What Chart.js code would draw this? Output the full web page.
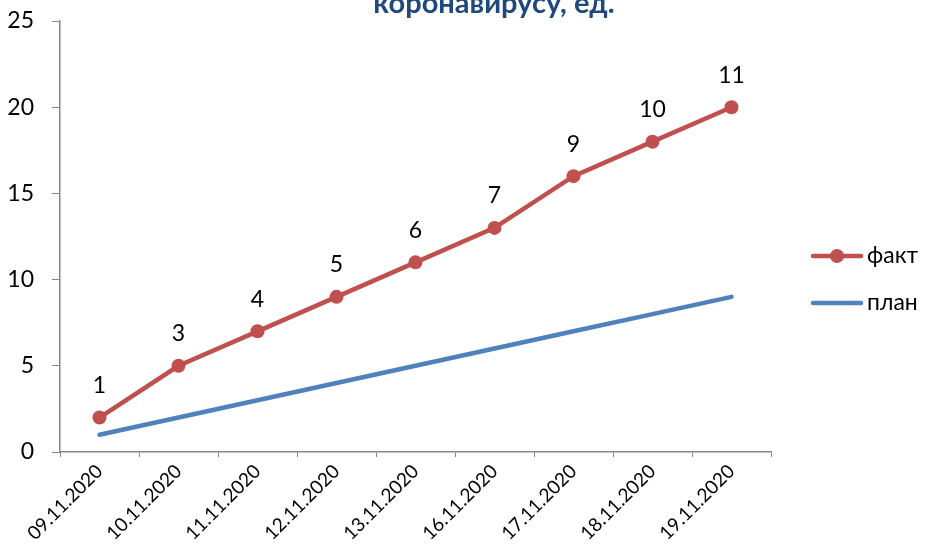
<!DOCTYPE html>
<html>
<head>
<meta charset="utf-8">
<script src="https://cdn.jsdelivr.net/npm/chart.js@4"></script>
<style>
html,body{margin:0;padding:0;background:#fff;}
#wrap{width:925px;height:546px;position:relative;}
</style>
</head>
<body>
<div id="wrap"><canvas id="c" width="925" height="546"></canvas></div>
<script>
const titleText = 'коронавирусу, ед.';
const categories = ['09.11.2020','10.11.2020','11.11.2020','12.11.2020','13.11.2020','16.11.2020','17.11.2020','18.11.2020','19.11.2020'];
const factValues = [2,5,7,9,11,13,16,18,20];
const factLabels = ['1','3','4','5','6','7','9','10','11'];
const planValues = [1,2,3,4,5,6,7,8,9];
const yTicks = [0,5,10,15,20,25];

const RED = '#C0504D';
const BLUE = '#4F81BD';
const AXIS = '#868686';
const FONT = 'Lato, "Open Sans", sans-serif';

const titlePlugin = {
  id: 'clippedTitle',
  afterDraw(chart) {
    const ctx = chart.ctx;
    ctx.save();
    ctx.font = 'bold 29px ' + FONT;
    ctx.fillStyle = '#1F497D';
    ctx.textAlign = 'center';
    ctx.textBaseline = 'alphabetic';
    ctx.fillText(titleText, 494, 13);
    ctx.restore();
  }
};

const dataLabelPlugin = {
  id: 'factLabels',
  afterDatasetsDraw(chart) {
    const ctx = chart.ctx;
    const meta = chart.getDatasetMeta(0);
    ctx.save();
    ctx.font = '23px ' + FONT;
    ctx.fillStyle = '#000';
    ctx.textAlign = 'center';
    ctx.textBaseline = 'middle';
    meta.data.forEach((pt, i) => {
      ctx.fillText(factLabels[i], pt.x, pt.y - 32);
    });
    ctx.restore();
  }
};

const legendPlugin = {
  id: 'sideLegend',
  afterDraw(chart) {
    const ctx = chart.ctx;
    const items = chart.data.datasets;
    const ys = [256, 303];
    ctx.save();
    items.forEach((ds, i) => {
      const y = ys[i];
      ctx.strokeStyle = ds.borderColor;
      ctx.lineWidth = 4.5;
      ctx.lineCap = 'round';
      ctx.beginPath();
      ctx.moveTo(813, y);
      ctx.lineTo(861, y);
      ctx.stroke();
      if (ds.pointRadius > 0) {
        ctx.fillStyle = ds.borderColor;
        ctx.beginPath();
        ctx.arc(837, y, 7, 0, Math.PI * 2);
        ctx.fill();
      }
      ctx.fillStyle = '#000';
      ctx.font = '23px ' + FONT;
      ctx.textAlign = 'left';
      ctx.textBaseline = 'middle';
      ctx.fillText(ds.label, 867, y);
    });
    ctx.restore();
  }
};

new Chart(document.getElementById('c'), {
  type: 'line',
  data: {
    labels: categories,
    datasets: [
      {
        label: 'факт',
        data: factValues,
        borderColor: RED,
        backgroundColor: RED,
        borderWidth: 4.5,
        pointRadius: 7,
        pointHoverRadius: 7,
        pointBackgroundColor: RED,
        pointBorderWidth: 0,
        tension: 0,
        borderCapStyle: 'round'
      },
      {
        label: 'план',
        data: planValues,
        borderColor: BLUE,
        backgroundColor: BLUE,
        borderWidth: 4.5,
        pointRadius: 0,
        tension: 0,
        borderCapStyle: 'round'
      }
    ]
  },
  options: {
    responsive: false,
    animation: false,
    devicePixelRatio: 1,
    layout: { padding: { top: 21, right: 154, left: 0, bottom: 0 } },
    plugins: {
      legend: { display: false },
      title: { display: false },
      tooltip: { enabled: false }
    },
    scales: {
      x: {
        type: 'category',
        offset: true,
        grid: { display: true, drawOnChartArea: false, offset: true, color: AXIS, tickLength: 5, lineWidth: 1 },
        border: { display: true, color: AXIS, width: 1.5 },
        ticks: {
          color: '#000',
          font: { family: FONT, size: 19 },
          minRotation: 45,
          maxRotation: 45,
          autoSkip: false,
          padding: 3
        },
        afterFit(scale) { scale.height = 94; scale.paddingTop = 0; scale.paddingBottom = 0; scale.paddingLeft = 0; scale.paddingRight = 0; }
      },
      y: {
        min: 0,
        max: 25,
        afterBuildTicks(scale) { scale.ticks = yTicks.map(v => ({ value: v })); },
        grid: { display: true, drawOnChartArea: false, color: AXIS, tickLength: 8, lineWidth: 1 },
        border: { display: true, color: AXIS, width: 1.5 },
        ticks: {
          color: '#000',
          font: { family: FONT, size: 23 },
          padding: 18
        },
        afterFit(scale) { scale.width = 60; scale.paddingTop = 0; scale.paddingBottom = 0; }
      }
    }
  },
  plugins: [titlePlugin, dataLabelPlugin, legendPlugin]
});
</script>
</body>
</html>
